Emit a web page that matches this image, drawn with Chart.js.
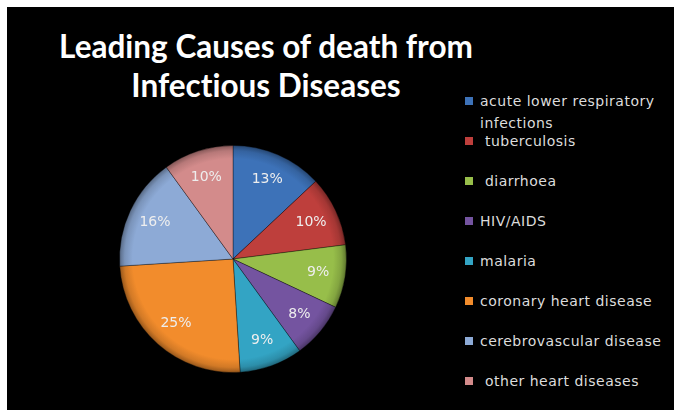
<!DOCTYPE html>
<html>
<head>
<meta charset="utf-8">
<script src="https://cdn.jsdelivr.net/npm/chart.js@4"></script>
<style>
  body { margin:0; background:#fff; width:674px; height:410px; overflow:hidden; }
  #box { position:absolute; left:7px; top:7px; width:667px; height:403px; background:#000; }
  #title { position:absolute; left:0; top:20px; width:518px; text-align:center;
    font-family:Lato, sans-serif; font-weight:bold; font-size:31.5px; line-height:39px; color:#fff;
    font-variant-ligatures:none; }
  #chartWrap { position:absolute; left:0; top:0; width:452px; height:403px; }
  #legend { position:absolute; left:458px; top:0; width:210px; height:403px;
    font-family:"DejaVu Sans", sans-serif; font-size:14px; letter-spacing:0.5px; color:#dcdcdc; }
  .item { position:absolute; left:0; white-space:pre; line-height:22px; }
  .mark { position:absolute; left:0; top:7px; width:8px; height:8px; }
  .txt { position:absolute; left:15px; top:0; }
</style>
</head>
<body>
<div id="box">
  <div id="title">Leading Causes of death from<br>Infectious Diseases</div>
  <div id="chartWrap"><canvas id="myChart" width="452" height="403"></canvas></div>
  <div id="legend"></div>
</div>
<script>
const labels = ['acute lower respiratory\ninfections', ' tuberculosis', ' diarrhoea', 'HIV/AIDS', 'malaria',
  'coronary heart disease', 'cerebrovascular disease', ' other heart diseases'];
const values = [13, 10, 9, 8, 9, 25, 16, 10];
const colors = ['#3d72b8', '#be3f3c', '#97be4a', '#7454a0', '#33a4c4', '#f28c2c', '#8daad6', '#d38b8b'];

// legend (html)
const leg = document.getElementById('legend');
for (let i = 0; i < labels.length; i++) {
  const it = document.createElement('div');
  it.className = 'item';
  it.style.top = (83 + i * 40) + 'px';
  const m = document.createElement('div');
  m.className = 'mark';
  m.style.background = colors[i];
  const t = document.createElement('div');
  t.className = 'txt';
  t.textContent = labels[i];
  it.appendChild(m);
  it.appendChild(t);
  leg.appendChild(it);
}

// soft rim shading, a bit like the bevel in the original
function shade(c) {
  const chart = c.chart;
  const area = chart.chartArea;
  const base = colors[c.dataIndex];
  if (!area) return base;
  const cx = (area.left + area.right) / 2;
  const cy = (area.top + area.bottom) / 2;
  const r = Math.min(area.right - area.left, area.bottom - area.top) / 2;
  const g = chart.ctx.createRadialGradient(cx, cy, 0, cx, cy, r);
  g.addColorStop(0, base);
  g.addColorStop(0.88, base);
  g.addColorStop(0.95, base + 'dd');
  g.addColorStop(1, base + '99');
  return g;
}

const pctLabels = {
  id: 'pctLabels',
  afterDatasetsDraw(chart) {
    const ctx = chart.ctx;
    const meta = chart.getDatasetMeta(0);
    ctx.save();
    ctx.font = '14px "DejaVu Sans"';
    ctx.fillStyle = '#eeeeee';
    ctx.textAlign = 'center';
    ctx.textBaseline = 'middle';
    meta.data.forEach(function (arc, i) {
      const p = arc.getProps(['x', 'y', 'startAngle', 'endAngle', 'outerRadius'], true);
      const mid = (p.startAngle + p.endAngle) / 2;
      const r = p.outerRadius * 0.76;
      ctx.fillText(values[i] + '%', p.x + Math.cos(mid) * r, p.y + Math.sin(mid) * r);
    });
    ctx.restore();
  }
};

var ctx = document.getElementById('myChart').getContext('2d');
var myChart = new Chart(ctx, {
  type: 'pie',
  data: {
    labels: labels,
    datasets: [{
      data: values,
      backgroundColor: shade,
      borderColor: 'rgba(0,0,0,0.35)',
      borderWidth: 1
    }]
  },
  options: {
    responsive: false,
    animation: false,
    layout: { padding: { top: 138, bottom: 37, left: 100, right: 100 } },
    plugins: {
      legend: { display: false },
      title: { display: false },
      tooltip: { enabled: false }
    }
  },
  plugins: [pctLabels]
});
</script>
</body>
</html>
